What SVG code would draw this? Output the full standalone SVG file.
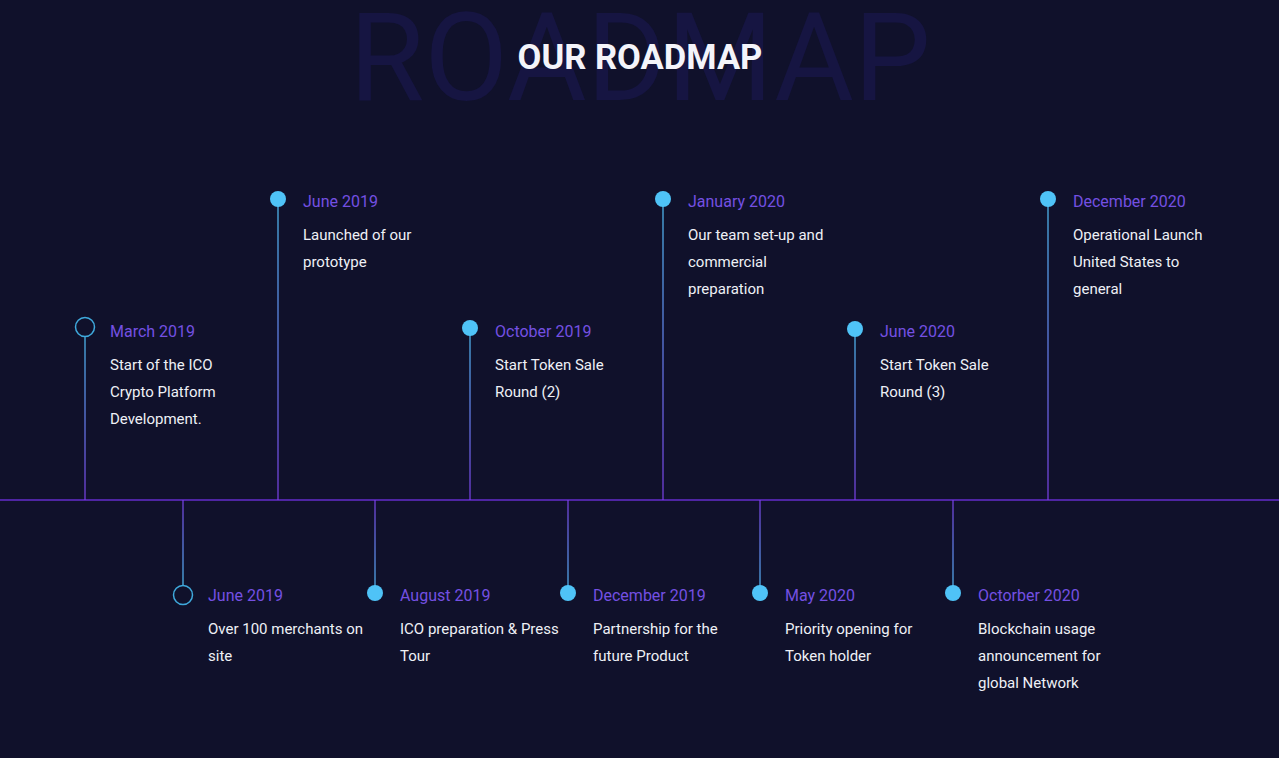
<svg xmlns="http://www.w3.org/2000/svg" width="1279" height="758" viewBox="0 0 1279 758">
<defs>
<linearGradient id="gDown" x1="0" y1="0" x2="0" y2="1"><stop offset="0" stop-color="#4fc3f7"/><stop offset="1" stop-color="#7a3ee6"/></linearGradient>
<linearGradient id="gUp" x1="0" y1="0" x2="0" y2="1"><stop offset="0" stop-color="#7a3ee6"/><stop offset="1" stop-color="#4fc3f7"/></linearGradient>
<style>
.date{font-family:Roboto,"Liberation Sans",sans-serif;font-size:16px;fill:#7450e2}
.desc{font-family:Roboto,"Liberation Sans",sans-serif;font-size:15px;fill:#eef0f6}
.dot{fill:#4fc3f7}
.ring{fill:none;stroke:#3fa9dc;stroke-width:1.5}
.sd{fill:url(#gDown)}
.su{fill:url(#gUp)}
</style>
</defs>
<rect width="1279" height="758" fill="#10112b"/>
<text x="640" y="100" text-anchor="middle" font-family="Roboto,'Liberation Sans',sans-serif" font-size="122" fill="#161542">ROADMAP</text>
<text x="640" y="69" text-anchor="middle" font-family="Roboto,'Liberation Sans',sans-serif" font-weight="bold" font-size="34.6" fill="#f4f4fa">OUR ROADMAP</text>
<g id="connectors">
<rect x="0" y="499.3" width="1279" height="1.4" fill="#6a2ed8"/>
<rect class="sd" x="84.4" y="337" width="1.2" height="163"/>
<rect class="sd" x="277.4" y="199" width="1.2" height="301"/>
<rect class="sd" x="469.4" y="328" width="1.2" height="172"/>
<rect class="sd" x="662.4" y="199" width="1.2" height="301"/>
<rect class="sd" x="854.4" y="329" width="1.2" height="171"/>
<rect class="sd" x="1047.4" y="199" width="1.2" height="301"/>
<rect class="su" x="182.4" y="500" width="1.2" height="85"/>
<rect class="su" x="374.4" y="500" width="1.2" height="93"/>
<rect class="su" x="567.4" y="500" width="1.2" height="93"/>
<rect class="su" x="759.4" y="500" width="1.2" height="93"/>
<rect class="su" x="952.4" y="500" width="1.2" height="93"/>
</g>
<g id="m1"><circle class="ring" cx="85" cy="327" r="9.5"/><text class="date" x="110" y="337">March 2019</text><text class="desc" x="110" y="370">Start of the ICO</text><text class="desc" x="110" y="397">Crypto Platform</text><text class="desc" x="110" y="424">Development.</text></g>
<g id="m2"><circle class="ring" cx="183" cy="595" r="9.5"/><text class="date" x="208" y="601">June 2019</text><text class="desc" x="208" y="634">Over 100 merchants on</text><text class="desc" x="208" y="661">site</text></g>
<g id="m3"><circle class="dot" cx="278" cy="199" r="8"/><text class="date" x="303" y="207">June 2019</text><text class="desc" x="303" y="240">Launched of our</text><text class="desc" x="303" y="267">prototype</text></g>
<g id="m4"><circle class="dot" cx="375" cy="593" r="8"/><text class="date" x="400" y="601">August 2019</text><text class="desc" x="400" y="634">ICO preparation &amp; Press</text><text class="desc" x="400" y="661">Tour</text></g>
<g id="m5"><circle class="dot" cx="470" cy="328" r="8"/><text class="date" x="495" y="337">October 2019</text><text class="desc" x="495" y="370">Start Token Sale</text><text class="desc" x="495" y="397">Round (2)</text></g>
<g id="m6"><circle class="dot" cx="568" cy="593" r="8"/><text class="date" x="593" y="601">December 2019</text><text class="desc" x="593" y="634">Partnership for the</text><text class="desc" x="593" y="661">future Product</text></g>
<g id="m7"><circle class="dot" cx="663" cy="199" r="8"/><text class="date" x="688" y="207">January 2020</text><text class="desc" x="688" y="240">Our team set-up and</text><text class="desc" x="688" y="267">commercial</text><text class="desc" x="688" y="294">preparation</text></g>
<g id="m8"><circle class="dot" cx="760" cy="593" r="8"/><text class="date" x="785" y="601">May 2020</text><text class="desc" x="785" y="634">Priority opening for</text><text class="desc" x="785" y="661">Token holder</text></g>
<g id="m9"><circle class="dot" cx="855" cy="329" r="8"/><text class="date" x="880" y="337">June 2020</text><text class="desc" x="880" y="370">Start Token Sale</text><text class="desc" x="880" y="397">Round (3)</text></g>
<g id="m10"><circle class="dot" cx="953" cy="593" r="8"/><text class="date" x="978" y="601">Octorber 2020</text><text class="desc" x="978" y="634">Blockchain usage</text><text class="desc" x="978" y="661">announcement for</text><text class="desc" x="978" y="688">global Network</text></g>
<g id="m11"><circle class="dot" cx="1048" cy="199" r="8"/><text class="date" x="1073" y="207">December 2020</text><text class="desc" x="1073" y="240">Operational Launch</text><text class="desc" x="1073" y="267">United States to</text><text class="desc" x="1073" y="294">general</text></g>
</svg>
